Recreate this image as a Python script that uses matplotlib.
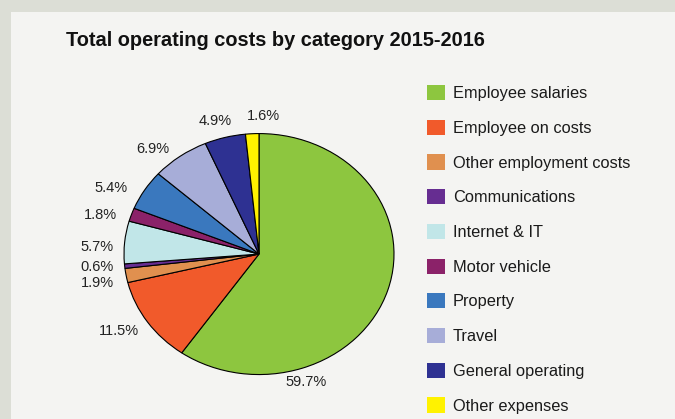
import matplotlib
matplotlib.use("Agg")
import matplotlib.pyplot as plt
from matplotlib.patches import Rectangle

plt.rcParams['font.family'] = ['Liberation Sans', 'DejaVu Sans']

# operating cost breakdown, percent of total
categories = ['Employee salaries', 'Employee on costs', 'Other employment costs',
              'Communications', 'Internet & IT', 'Motor vehicle', 'Property',
              'Travel', 'General operating', 'Other expenses']
shares = [59.7, 11.5, 1.9, 0.6, 5.7, 1.8, 5.4, 6.9, 4.9, 1.6]
colours = ['#8dc63f', '#f15a2b', '#e0904f', '#662d91', '#c1e6e8',
           '#8b2269', '#3a78be', '#a7add8', '#2e3192', '#fff200']

# where each percentage label sits, in pie-radius units
label_xy = [(0.348, -1.062), (-1.037, -0.639), (-1.199, -0.241), (-1.199, -0.108),
            (-1.20, 0.058), (-1.174, 0.324), (-1.096, 0.545), (-0.785, 0.871),
            (-0.322, 1.104), (0.033, 1.148)]

W, H = 675, 419
fig = plt.figure(figsize=(W / 100, H / 100), dpi=100)
fig.patch.set_facecolor('#dcded6')
fig.patches.append(Rectangle((11 / W, 0), 1 - 11 / W, (H - 12) / H,
                             transform=fig.transFigure, facecolor='#f4f4f2',
                             edgecolor='none', zorder=-5))

fig.text(66 / W, 1 - 41 / H, 'Total operating costs by category 2015-2016',
         fontsize=14.4, fontweight='bold', color='#111111', va='center', ha='left')

ax = fig.add_axes([0.1237, 0.0198, 0.52, 0.7477])
ax.set_zorder(2)
wedges, _ = ax.pie(shares, colors=colours, startangle=90, counterclock=False,
                   wedgeprops=dict(edgecolor='black', linewidth=0.8))
ax.set_xlim(-1.3, 1.3)
ax.set_ylim(-1.3, 1.3)
ax.set_aspect('auto')
ax.axis('off')

for share, (lx, ly) in zip(shares, label_xy):
    ax.text(lx, ly, f'{share}%', ha='center', va='center',
            fontsize=10.5, color='#222222')

ax.legend(wedges, categories, loc='upper left', frameon=False,
          bbox_to_anchor=(426.5 / W, 1 - 85 / H), bbox_transform=fig.transFigure,
          fontsize=11.8, handlelength=1.12, handleheight=1.05,
          handletextpad=0.5, labelspacing=1.13, borderpad=0, borderaxespad=0,
          labelcolor='#1a1a1a')
for h in ax.get_legend().legend_handles:
    h.set_edgecolor('none')

fig.savefig('out.png', dpi=100, facecolor=fig.get_facecolor())
